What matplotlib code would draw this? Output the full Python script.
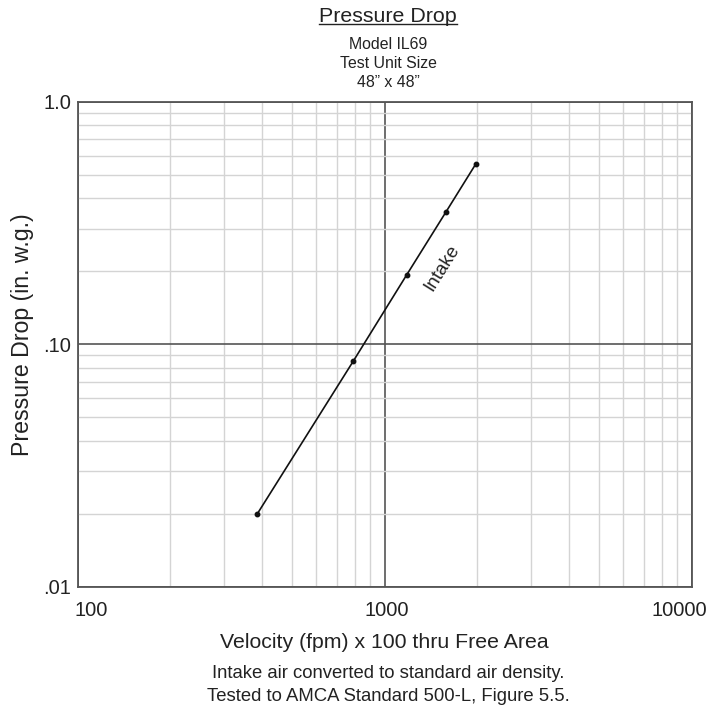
import matplotlib
matplotlib.use("Agg")
import matplotlib.pyplot as plt
from matplotlib.ticker import FixedLocator, NullFormatter, LogLocator
from matplotlib.transforms import ScaledTranslation

plt.rcParams['font.family'] = ['Liberation Sans', 'DejaVu Sans']

velocity = [385, 790, 1180, 1585, 1980]
pressure = [0.020, 0.085, 0.193, 0.351, 0.552]
x_ticks = [100, 1000, 10000]
x_labels = ["100", "1000", "10000"]
y_ticks = [0.01, 0.1, 1.0]
y_labels = [".01", ".10", "1.0"]

W, H = 709, 706
fig = plt.figure(figsize=(W / 100, H / 100), dpi=100)
ax_l, ax_r, ax_t, ax_b = 77.5, 691.5, 101.7, 587.0
ax = fig.add_axes([ax_l / W, 1 - ax_b / H, (ax_r - ax_l) / W, (ax_b - ax_t) / H])
ax.set_xscale('log')
ax.set_yscale('log')
ax.set_xlim(100, 10000)
ax.set_ylim(0.01, 1.0)

ax.xaxis.set_major_locator(FixedLocator(x_ticks))
ax.yaxis.set_major_locator(FixedLocator(y_ticks))
ax.set_xticklabels(x_labels)
ax.set_yticklabels(y_labels)
ax.xaxis.set_minor_locator(LogLocator(base=10, subs=range(2, 10)))
ax.yaxis.set_minor_locator(LogLocator(base=10, subs=range(2, 10)))
ax.xaxis.set_minor_formatter(NullFormatter())
ax.yaxis.set_minor_formatter(NullFormatter())
ax.tick_params(which='both', length=0, labelsize=14.5, colors='#222222')
ax.tick_params(axis='x', pad=10)
ax.tick_params(axis='y', pad=4.5)

# nudge x tick labels as in the reference
offsets_px = [14, 2, -12]
for lab, dx in zip(ax.get_xticklabels(), offsets_px):
    lab.set_transform(lab.get_transform() + ScaledTranslation(dx / 100, 0, fig.dpi_scale_trans))

ax.grid(which='minor', color='#d4d4d4', linewidth=1.0)
ax.grid(which='major', color='#555555', linewidth=1.2)
ax.set_axisbelow(True)
for s in ax.spines.values():
    s.set_color('#555555')
    s.set_linewidth(1.3)

ax.plot(velocity, pressure, color='#111111', linewidth=1.2, marker='o', markersize=3.2, zorder=3)
ax.text(1538, 0.206, "Intake", rotation=58, ha='center', va='center', fontsize=13.5, color='#222222')

ax.set_xlabel("Velocity (fpm) x 100 thru Free Area", fontsize=15.3, color='#222222')
ax.xaxis.label.set_va('baseline')
ax.xaxis.set_label_coords(0.5, -(648.5 - ax_b) / (ax_b - ax_t))
ax.set_ylabel("Pressure Drop (in. w.g.)", fontsize=16.7, color='#222222')
ax.yaxis.label.set_va('center')
ax.yaxis.set_label_coords(-(ax_l - 23) / (ax_r - ax_l), (ax_b - 335) / (ax_b - ax_t))

cx = 388 / W
title = fig.text(cx, 1 - 21.7 / H, "Pressure Drop", ha='center', va='baseline', fontsize=15.4, color='#222222')
fig.canvas.draw()
bb = title.get_window_extent()
fig.add_artist(plt.Line2D([bb.x0 / W, bb.x1 / W], [1 - 24 / H, 1 - 24 / H],
                          color='#222222', linewidth=1.0, transform=fig.transFigure))

for txt, yb in zip(["Model IL69", "Test Unit Size", "48\u201d x 48\u201d"], [49, 68.3, 87.3]):
    fig.text(cx, 1 - yb / H, txt, ha='center', va='baseline', fontsize=11.4, color='#222222')

for txt, yb in zip(["Intake air converted to standard air density.",
                    "Tested to AMCA Standard 500-L, Figure 5.5."], [678.5, 701]):
    fig.text(cx, 1 - yb / H, txt, ha='center', va='baseline', fontsize=13.3, color='#222222')

fig.savefig("out.png", dpi=100)
